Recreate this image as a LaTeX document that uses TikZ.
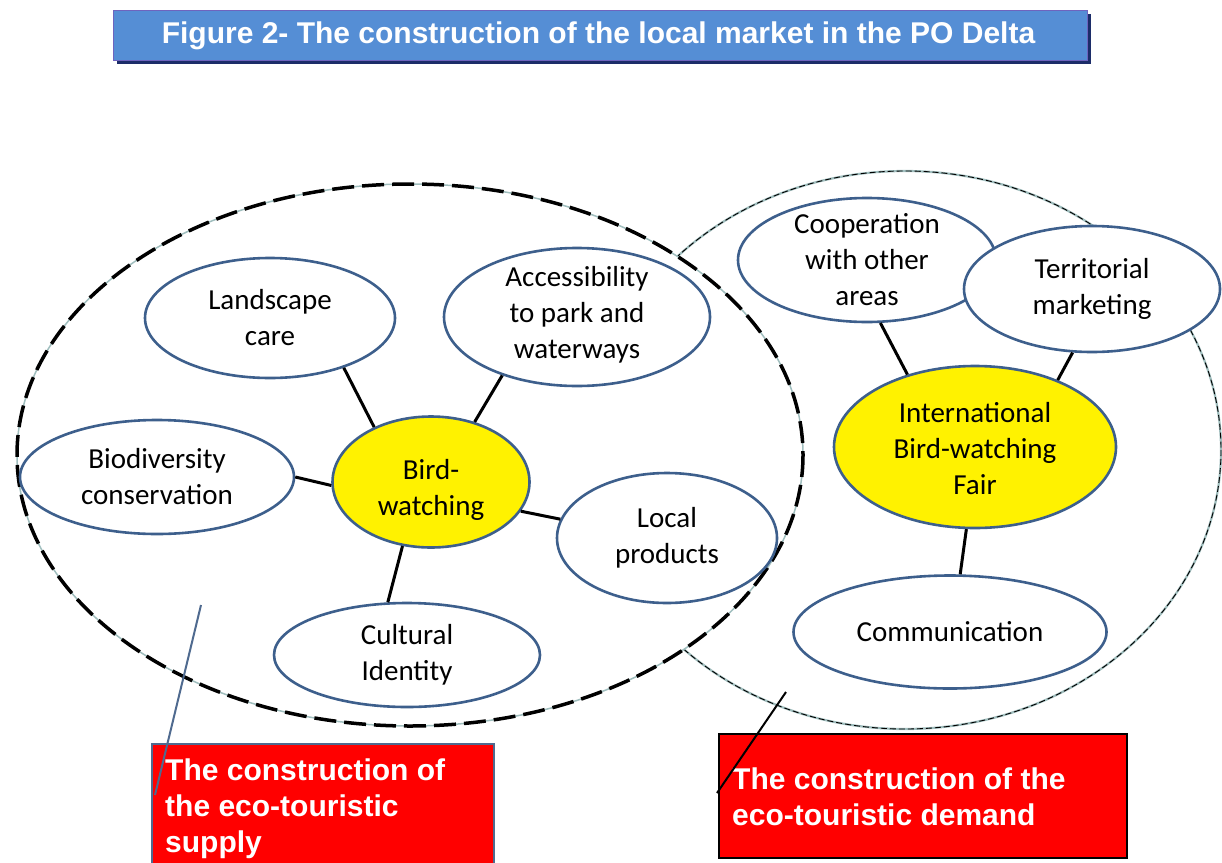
\documentclass[tikz,border=0pt]{standalone}
\usepackage{fontspec}
\setmainfont{Carlito}
\newfontfamily\arialf{Liberation Sans}
\usetikzlibrary{shapes.geometric}
\definecolor{bub}{RGB}{61,95,140}
\definecolor{titleblue}{RGB}{85,142,213}
\definecolor{titleshadow}{RGB}{28,45,105}
\definecolor{titleedge}{RGB}{110,100,190}
\definecolor{redbox}{RGB}{255,0,0}
\definecolor{halo}{RGB}{160,190,190}
\definecolor{pointerblue}{RGB}{79,106,143}
\begin{document}
\begin{tikzpicture}[x=1pt,y=-1pt,
  bubble/.style={ellipse, draw=bub, line width=2.6pt, fill=white, inner sep=0pt},
  yellowbubble/.style={bubble, fill=yellow},
  bubtext/.style={align=center, font=\fontsize{29}{36}\selectfont, inner sep=0pt},
  link/.style={line width=3pt, black},
  boxtext/.style={align=left, anchor=west, text=white, inner sep=0pt,
    font=\arialf\bfseries\fontsize{30}{36}\selectfont}]
\useasboundingbox (0,0) rectangle (1222,862);
% title
\fill[titleshadow] (117,14) rectangle (1091,64);
\node[draw=titleedge, line width=1pt, fill=titleblue, minimum width=974pt, minimum height=50pt, inner sep=0pt, anchor=north west] (title) at (113,10) {};
\node[text=white, font=\arialf\bfseries\fontsize{30}{34}\selectfont] at ([xshift=-2pt]title.center) {Figure 2- The construction of the local market in the PO Delta};
% right large ellipse (demand)
\draw[halo, line width=2.2pt, fill=white] (905,450) ellipse [x radius=316, y radius=279];
\draw[black, line width=0.9pt, dash pattern=on 6pt off 3pt] (905,450) ellipse [x radius=316, y radius=279];
% left large ellipse (supply)
\draw[halo, line width=1.5pt, fill=white] (410,455) ellipse [x radius=393, y radius=271];
\draw[black, line width=3.5pt, dash pattern=on 22pt off 8pt] (410,455) ellipse [x radius=393, y radius=271];
% left bubbles
\node[bubble, minimum width=250pt, minimum height=120pt] (land) at (270,318) {};
\node[bubtext] at (land.center) {Landscape\\care};
\node[bubble, minimum width=266pt, minimum height=138pt] (acc) at (577,317) {};
\node[bubtext] at ([yshift=2pt]acc.center) {Accessibility\\to park and\\waterways};
\node[bubble, minimum width=274pt, minimum height=114pt] (bio) at (157,477) {};
\node[bubtext] at (bio.center) {Biodiversity\\conservation};
\node[yellowbubble, minimum width=197pt, minimum height=131pt] (bird) at (431,482) {};
\node[bubtext] at ([yshift=-8pt]bird.center) {Bird-\\watching};
\node[bubble, minimum width=220pt, minimum height=130pt] (local) at (667,538) {};
\node[bubtext] at (local.center) {Local\\products};
\node[bubble, minimum width=266pt, minimum height=104pt] (cult) at (407,655) {};
\node[bubtext] at (cult.center) {Cultural\\Identity};
% right bubbles
\node[bubble, minimum width=258pt, minimum height=124pt] (coop) at (867,260) {};
\node[bubtext] at (coop.center) {Cooperation\\with other\\areas};
\node[bubble, minimum width=256pt, minimum height=126pt] (terr) at (1092,289) {};
\node[bubtext] at (terr.center) {Territorial\\marketing};
\node[yellowbubble, minimum width=282pt, minimum height=162pt] (intl) at (975,447) {};
\node[bubtext] at ([yshift=-2pt]intl.center) {International\\Bird-watching\\Fair};
\node[bubble, minimum width=313pt, minimum height=113pt] (comm) at (950,632) {};
\node[bubtext] at (comm.center) {Communication};
% connectors
\draw[link] (land.-34) -- (bird.136);
\draw[link] (acc.-142) -- (bird.54);
\draw[link] (bio.0) -- (bird.182);
\draw[link] (local.170) -- (bird.-18);
\draw[link] (cult.110) -- (bird.-114);
\draw[link] (coop.-78) -- (intl.133);
\draw[link] (terr.-107) -- (intl.39);
\draw[link] (intl.-96) -- (comm.80);
% red boxes
\node[draw=pointerblue, line width=2pt, fill=redbox, minimum width=342pt, minimum height=130pt, inner sep=0pt, anchor=north west] (supply) at (151,743) {};
\node[boxtext] at (165,809) {The construction of\\the eco-touristic\\supply};
\node[draw=black, line width=2pt, fill=redbox, minimum width=408pt, minimum height=124pt, inner sep=0pt, anchor=north west] (demand) at (718,733) {};
\node[boxtext] at (732,797) {The construction of the\\eco-touristic demand};
% pointers
\coordinate (sp1) at (201,605);
\coordinate (sp2) at (155,795);
\draw[pointerblue, line width=2pt] (sp1) -- (sp2);
\coordinate (dp1) at (786,692);
\coordinate (dp2) at (717,793);
\draw[black, line width=2pt] (dp1) -- (dp2);
\end{tikzpicture}
\end{document}
